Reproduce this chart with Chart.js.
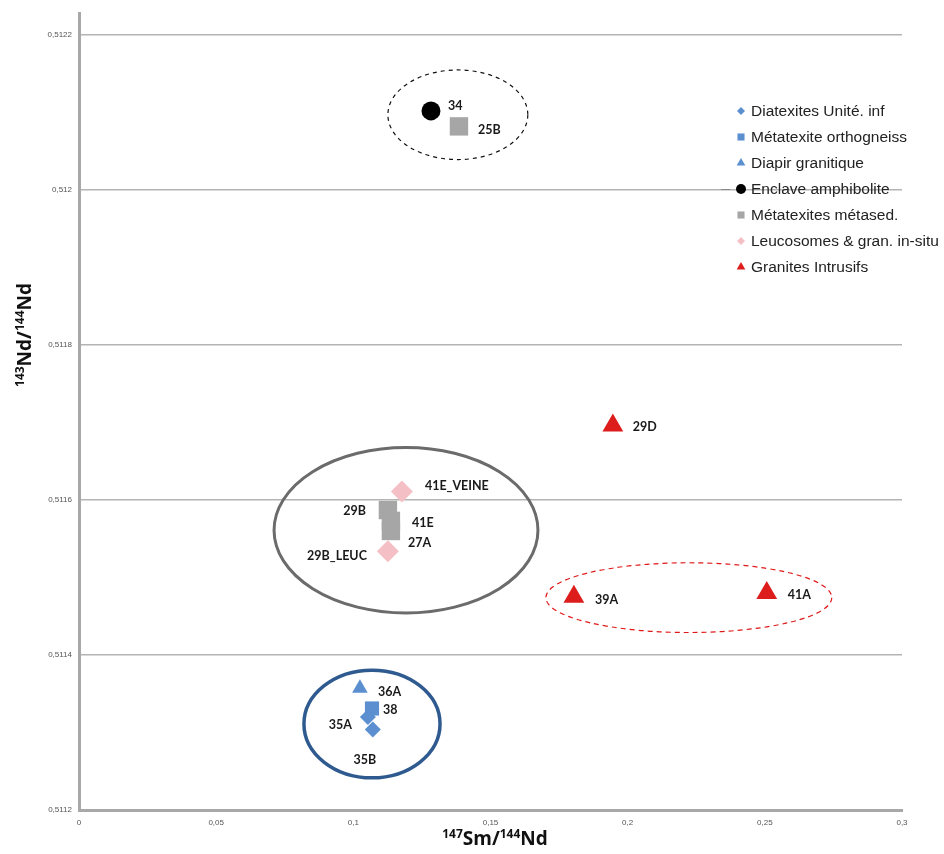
<!DOCTYPE html>
<html>
<head>
<meta charset="utf-8">
<script src="https://cdn.jsdelivr.net/npm/chart.js@4.4.0/dist/chart.umd.min.js"></script>
<style>
  html, body { margin: 0; padding: 0; background: #fff; }
  #wrap { width: 944px; height: 854px; }
</style>
</head>
<body>
<div id="wrap"><canvas id="myChart" width="944" height="854"></canvas></div>
<script>
// series names (legend order)
const seriesNames = [
  "Diatexites Unité. inf",
  "Métatexite orthogneiss",
  "Diapir granitique",
  "Enclave amphibolite",
  "Métatexites métased.",
  "Leucosomes & gran. in-situ",
  "Granites Intrusifs"
];

// sample values: 147Sm/144Nd (x) and 143Nd/144Nd (y)
const diatexX = [0.1053, 0.1071];
const diatexY = [0.511320, 0.511304];
const diatexLbl = ["35A", "35B"];

const orthoX = [0.1068];
const orthoY = [0.511331];
const orthoLbl = ["38"];

const diapirX = [0.1024];
const diapirY = [0.511357];
const diapirLbl = ["36A"];

const enclaveX = [0.1283];
const enclaveY = [0.512102];
const enclaveLbl = ["34"];

const metasedX = [0.1385, 0.1126, 0.1137, 0.1137];
const metasedY = [0.512082, 0.511587, 0.511573, 0.511560];
const metasedLbl = ["25B", "29B", "41E", "27A"];

const leucoX = [0.1177, 0.1126];
const leucoY = [0.511611, 0.511534];
const leucoLbl = ["41E_VEINE", "29B_LEUC"];

const granX = [0.1946, 0.1804, 0.2507];
const granY = [0.511696, 0.511475, 0.511480];
const granLbl = ["29D", "39A", "41A"];

// axis ticks
const xTicks = [0, 0.05, 0.1, 0.15, 0.2, 0.25, 0.3];
const yTicks = [0.5112, 0.5114, 0.5116, 0.5118, 0.512, 0.5122];

// group ellipses: centre x, centre y, radius x, radius y (data units)
const ellX = [0.1381, 0.1192, 0.2223, 0.1068];
const ellY = [0.512097, 0.511561, 0.511474, 0.511311];
const ellRX = [0.0255, 0.0481, 0.0521, 0.0248];
const ellRY = [0.0000578, 0.0001067, 0.000045, 0.0000694];
const ellStyle = [
  { color: "#111", width: 1.2, dash: [4, 4] },
  { color: "#6b6b6b", width: 3, dash: [] },
  { color: "#e01818", width: 1.2, dash: [5, 4] },
  { color: "#2f5a8f", width: 3.5, dash: [] }
];

// label placement per point: [align, dx, dy]
const labelPos = [
  [["right", -16, 8], ["center", -8, 31]],
  [["left", 11, 2]],
  [["left", 18, 4]],
  [["left", 17, -5]],
  [["left", 19, 4], ["right", -22, 1], ["left", 21, 2], ["left", 17, 12]],
  [["left", 23, -5], ["right", -21, 5]],
  [["left", 20, 1], ["left", 21, 3], ["left", 21, 2]]
];

const pts = (xs, ys) => xs.map((x, i) => ({ x: x, y: ys[i] }));
const seriesData = [
  pts(diatexX, diatexY), pts(orthoX, orthoY), pts(diapirX, diapirY),
  pts(enclaveX, enclaveY), pts(metasedX, metasedY), pts(leucoX, leucoY),
  pts(granX, granY)
];
const seriesLabels = [diatexLbl, orthoLbl, diapirLbl, enclaveLbl, metasedLbl, leucoLbl, granLbl];
const colors = ["#5b8fd0", "#5b8fd0", "#5b8fd0", "#000000", "#a6a6a6", "#f4c0c6", "#dd1c1c"];
const styles = ["rectRot", "rect", "triangle", "circle", "rect", "rectRot", "triangle"];
const radii = [8, 10, 9, 9.5, 13, 11, 12];

const fmt = (v) => String(v).replace(".", ",");

const ellipsePlugin = {
  id: "ellipses",
  beforeDatasetsDraw(chart) {
    const { ctx, scales } = chart;
    ctx.save();
    ellX.forEach((cx, i) => {
      const px = scales.x.getPixelForValue(cx);
      const py = scales.y.getPixelForValue(ellY[i]);
      const rx = scales.x.getPixelForValue(cx + ellRX[i]) - px;
      const ry = py - scales.y.getPixelForValue(ellY[i] + ellRY[i]);
      ctx.beginPath();
      ctx.setLineDash(ellStyle[i].dash);
      ctx.strokeStyle = ellStyle[i].color;
      ctx.lineWidth = ellStyle[i].width;
      ctx.ellipse(px, py, rx, ry, 0, 0, Math.PI * 2);
      ctx.stroke();
    });
    ctx.restore();
  }
};

const labelPlugin = {
  id: "pointLabels",
  afterDatasetsDraw(chart) {
    const ctx = chart.ctx;
    ctx.save();
    ctx.font = "bold 12.5px Lato, 'Open Sans', sans-serif";
    ctx.fillStyle = "#1a1a1a";
    ctx.textBaseline = "middle";
    chart.data.datasets.forEach((ds, di) => {
      const meta = chart.getDatasetMeta(di);
      meta.data.forEach((el, i) => {
        const p = labelPos[di][i];
        ctx.textAlign = p[0];
        ctx.fillText(seriesLabels[di][i], el.x + p[1], el.y + p[2]);
      });
    });
    ctx.restore();
  }
};

const legendPlugin = {
  id: "boxLegend",
  afterDraw(chart) {
    const ctx = chart.ctx;
    ctx.save();
    ctx.font = "15.5px 'Liberation Sans', Arial, sans-serif";
    ctx.textBaseline = "middle";
    ctx.textAlign = "left";
    // small stray tick left of one entry, as in the original
    ctx.strokeStyle = "#888";
    ctx.lineWidth = 1;
    ctx.beginPath();
    ctx.moveTo(721, 189.5);
    ctx.lineTo(730, 189.5);
    ctx.stroke();
    chart.data.datasets.forEach((ds, i) => {
      const y = 111 + i * 26;
      ctx.fillStyle = ds.backgroundColor;
      ctx.strokeStyle = ds.backgroundColor;
      Chart.helpers.drawPoint(ctx, { pointStyle: ds.pointStyle, radius: ds.pointStyle === "rectRot" ? 4 : 5, rotation: 0, borderWidth: 0 }, 741, y);
      ctx.fillStyle = "#222";
      ctx.fillText(ds.label, 751, y + 1);
    });
    ctx.restore();
  }
};

function drawSup(ctx, parts, x, y) {
  // parts: [text, isSup]; centred on x
  const big = "bold 19px 'Open Sans', Lato, sans-serif";
  const small = "bold 12px 'Open Sans', Lato, sans-serif";
  let w = 0;
  parts.forEach(p => { ctx.font = p[1] ? small : big; w += ctx.measureText(p[0]).width; });
  let cx = x - w / 2;
  parts.forEach(p => {
    ctx.font = p[1] ? small : big;
    ctx.fillText(p[0], cx, p[1] ? y - 7 : y);
    cx += ctx.measureText(p[0]).width;
  });
}

const titlePlugin = {
  id: "axisTitles",
  afterDraw(chart) {
    const ctx = chart.ctx;
    ctx.save();
    ctx.fillStyle = "#111";
    ctx.textAlign = "left";
    ctx.textBaseline = "alphabetic";
    drawSup(ctx, [["147", true], ["Sm/", false], ["144", true], ["Nd", false]], 495, 845);
    ctx.translate(31, 335);
    ctx.rotate(-Math.PI / 2);
    drawSup(ctx, [["143", true], ["Nd/", false], ["144", true], ["Nd", false]], 0, 0);
    ctx.restore();
  }
};

new Chart(document.getElementById("myChart"), {
  type: "scatter",
  data: {
    datasets: seriesNames.map((name, i) => ({
      label: name,
      data: seriesData[i],
      backgroundColor: colors[i],
      borderColor: colors[i],
      borderWidth: 0,
      pointStyle: styles[i],
      pointRadius: radii[i],
      pointHoverRadius: radii[i]
    }))
  },
  plugins: [ellipsePlugin, labelPlugin, legendPlugin, titlePlugin],
  options: {
    responsive: false,
    animation: false,
    layout: { padding: { left: 0, right: 42, top: 10, bottom: 0 } },
    plugins: {
      legend: { display: false },
      tooltip: { enabled: false }
    },
    scales: {
      x: {
        type: "linear",
        min: 0,
        max: 0.3,
        afterFit(scale) { scale.height = 44; },
        afterBuildTicks(scale) { scale.ticks = xTicks.map(v => ({ value: v })); },
        grid: { display: false, drawTicks: false },
        border: { display: true, color: "#a8a8a8", width: 3 },
        ticks: {
          padding: 8,
          color: "#555",
          font: { size: 8, family: "'Liberation Sans', Arial, sans-serif" },
          maxRotation: 0,
          callback: (v) => fmt(v)
        }
      },
      y: {
        type: "linear",
        min: 0.5112,
        max: 0.5122283,
        afterFit(scale) { scale.width = 79; },
        afterBuildTicks(scale) { scale.ticks = yTicks.map(v => ({ value: v })); },
        grid: { color: "#b4b4b4", lineWidth: 1.5, drawTicks: false },
        border: { display: true, color: "#a8a8a8", width: 3 },
        ticks: {
          padding: 7,
          color: "#555",
          font: { size: 8, family: "'Liberation Sans', Arial, sans-serif" },
          callback: (v) => fmt(v)
        }
      }
    }
  }
});
</script>
</body>
</html>
